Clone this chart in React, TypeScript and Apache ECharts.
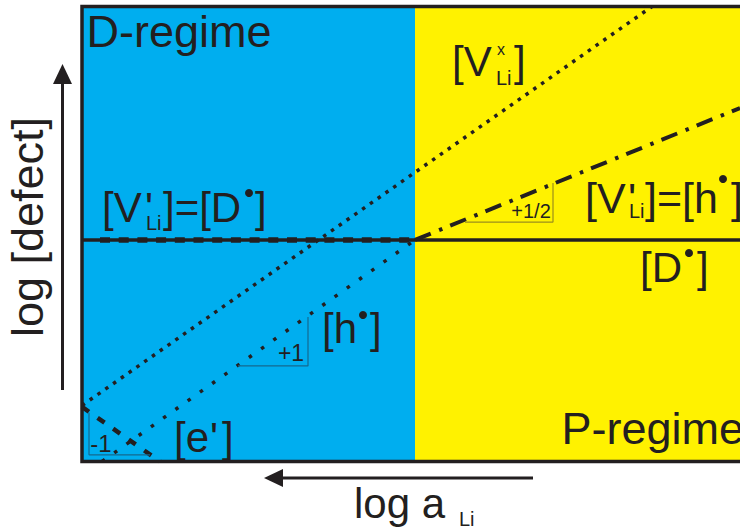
import React, { useEffect, useRef } from "react";
import * as echarts from "echarts";

// Brouwer diagram: defect concentrations vs lithium activity (log-log, arbitrary units)
const xRange = [0, 13.16];
const yRange = [0, 13];
const regimeBoundary = 6.66;
const donorLevel = 6.33;

// defect lines as [log aLi, log concentration] pairs
const donorLine = [[0, donorLevel], [13.16, donorLevel]];
const vacancyChargedD = [[0.36, donorLevel], [regimeBoundary, donorLevel]];
const vacancyChargedP = [[regimeBoundary, donorLevel], [13.16, 10.1]];
const vacancyNeutral = [[0, 1.6], [11.4, 13]];
const holeLine = [[0.4, 0], [regimeBoundary, donorLevel]];
const electronLine = [[0, 1.56], [1.56, 0]];

// slope guide triangles
const slopeMinusOne = [[0.14, 1.39], [0.14, 0.19], [1.36, 0.19]];
const slopePlusOne = [[3.12, 2.73], [4.52, 2.73], [4.52, 4.13]];
const slopePlusHalf = [[7.66, 6.84], [9.42, 6.84], [9.42, 7.96]];
const slopeLabels = ["-1", "+1", "+1/2"];

const regimeNames = ["D-regime", "P-regime"];

const INK = "#231f20";
const BLUE = "#00aeef";
const YELLOW = "#fff200";
const FONT = '"Liberation Sans", Arial, Helvetica, sans-serif';

type Piece = { t: string; x: number; y: number; s: number };

function txt(p: Piece, extra: Record<string, unknown> = {}) {
  return {
    type: "text",
    x: p.x,
    y: p.y,
    z: 50,
    silent: true,
    style: {
      text: p.t,
      fontSize: p.s,
      fontFamily: FONT,
      fill: INK,
      align: "left",
      verticalAlign: "middle",
    },
    ...extra,
  };
}

function dot(x: number, y: number) {
  return { type: "circle", z: 50, silent: true, shape: { cx: x, cy: y, r: 4 }, style: { fill: INK } };
}

function lineSeries(name: string, data: number[][], style: Record<string, unknown>) {
  return {
    name,
    type: "line",
    data,
    symbol: "none",
    z: 3,
    silent: true,
    lineStyle: { color: INK, ...style },
  };
}

export default function App() {
  const ref = useRef<HTMLDivElement>(null);

  useEffect(() => {
    if (!ref.current) return;
    const chart = echarts.init(ref.current, undefined, { renderer: "svg" });

    const labels: Piece[] = [
      // [V'Li]=[D•]
      { t: "[V", x: 102, y: 207, s: 42 },
      { t: "'", x: 145, y: 207, s: 42 },
      { t: "Li", x: 146, y: 222.5, s: 20 },
      { t: "]=[D", x: 163, y: 207, s: 42 },
      { t: "]", x: 255, y: 207, s: 42 },
      // [V'Li]=[h•]
      { t: "[V", x: 585, y: 197.5, s: 43 },
      { t: "'", x: 628, y: 197.5, s: 43 },
      { t: "Li", x: 629, y: 211, s: 20 },
      { t: "]=[h", x: 645, y: 197.5, s: 43 },
      { t: "]", x: 731, y: 197.5, s: 43 },
      // [D•]
      { t: "[D", x: 640, y: 267, s: 42 },
      { t: "]", x: 697, y: 267, s: 42 },
      // [VxLi]
      { t: "[V", x: 452, y: 61, s: 42 },
      { t: "x", x: 497, y: 49, s: 16 },
      { t: "Li", x: 496, y: 78, s: 20 },
      { t: "]", x: 514, y: 61, s: 42 },
      // [h•]
      { t: "[h", x: 322, y: 328, s: 42 },
      { t: "]", x: 370, y: 328, s: 42 },
      // [e']
      { t: "[e", x: 174, y: 437, s: 42 },
      { t: "'", x: 210, y: 437, s: 42 },
      { t: "]", x: 222, y: 437, s: 42 },
      // regimes
      { t: regimeNames[0], x: 86.5, y: 31.5, s: 45 },
      { t: regimeNames[1], x: 561.5, y: 428, s: 45 },
      // x axis title
      { t: "log a", x: 354, y: 503, s: 42 },
      { t: "Li", x: 459, y: 519, s: 20 },
    ];

    const slopeText = [
      { t: slopeLabels[0], x: 101, y: 443, s: 24 },
      { t: slopeLabels[1], x: 291, y: 353, s: 23 },
      { t: slopeLabels[2], x: 531, y: 211, s: 20 },
    ];

    const graphics: any[] = [
      ...labels.map((p) => txt(p)),
      ...slopeText.map((p) => {
        const el: any = txt(p);
        el.style.align = "center";
        return el;
      }),
      dot(249, 193),
      dot(723, 179),
      dot(689, 253),
      dot(363, 315),
      {
        type: "text",
        x: 27.5,
        y: 227,
        rotation: Math.PI / 2,
        z: 50,
        silent: true,
        style: {
          text: "log [defect]",
          fontSize: 45,
          fontFamily: FONT,
          fill: INK,
          align: "center",
          verticalAlign: "middle",
        },
      },
      // axis direction arrows
      { type: "line", z: 50, silent: true, shape: { x1: 62.5, y1: 390, x2: 62.5, y2: 80 }, style: { stroke: INK, lineWidth: 3 } },
      { type: "polygon", z: 50, silent: true, shape: { points: [[53, 84], [72, 84], [62.5, 64]] }, style: { fill: INK } },
      { type: "line", z: 50, silent: true, shape: { x1: 533, y1: 478, x2: 280, y2: 478 }, style: { stroke: INK, lineWidth: 3 } },
      { type: "polygon", z: 50, silent: true, shape: { points: [[283, 469], [283, 487], [264, 478]] }, style: { fill: INK } },
      // plot frame
      {
        type: "rect",
        z: 60,
        silent: true,
        shape: { x: 82, y: 6.5, width: 720, height: 455 },
        style: { fill: "none", stroke: INK, lineWidth: 3.5 },
      },
    ];

    chart.setOption({
      animation: false,
      grid: { left: 82, top: 6.5, right: 0, height: 455, containLabel: false },
      xAxis: { type: "value", min: xRange[0], max: xRange[1], show: false },
      yAxis: { type: "value", min: yRange[0], max: yRange[1], show: false },
      series: [
        {
          name: "regimes",
          type: "line",
          data: [],
          symbol: "none",
          z: 1,
          markArea: {
            silent: true,
            data: [
              [{ xAxis: xRange[0], itemStyle: { color: BLUE } }, { xAxis: regimeBoundary }],
              [{ xAxis: regimeBoundary, itemStyle: { color: YELLOW } }, { xAxis: xRange[1] }],
            ],
          },
        },
        lineSeries("[D•]", donorLine, { width: 3.5, type: "solid" }),
        lineSeries("[V'Li]=[D•]", vacancyChargedD, { width: 5.5, type: [10, 8.7], cap: "butt" }),
        lineSeries("[V'Li]=[h•]", vacancyChargedP, { width: 4, type: [17, 9, 3.5, 8.5], cap: "butt" }),
        lineSeries("[VxLi]", vacancyNeutral, { width: 3.5, type: [3.5, 6], cap: "butt" }),
        lineSeries("[h•]", holeLine, { width: 3.5, type: [3.5, 11.5], cap: "butt" }),
        lineSeries("[e']", electronLine, { width: 4.5, type: [8.5, 10.5], cap: "butt" }),
        lineSeries("slope -1", slopeMinusOne, { width: 1.2, color: "#14698f" }),
        lineSeries("slope +1", slopePlusOne, { width: 1.2, color: "#14698f" }),
        lineSeries("slope +1/2", slopePlusHalf, { width: 1.2, color: "#9c8f1c" }),
      ],
      graphic: graphics,
    });

    return () => chart.dispose();
  }, []);

  return (
    <div
      ref={ref}
      style={{ position: "fixed", left: 0, top: 0, width: 740, height: 530, background: "#ffffff" }}
    />
  );
}
